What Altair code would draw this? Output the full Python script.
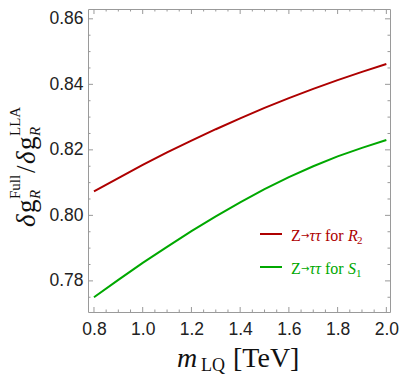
import altair as alt
import pandas as pd

# ---- data ----
m_lq = [0.8, 0.9, 1.0, 1.1, 1.2, 1.3, 1.4, 1.5, 1.6, 1.7, 1.8, 1.9, 2.0]
ratio_R2 = [0.8073, 0.8114, 0.8154, 0.8192, 0.8228, 0.8263, 0.8296, 0.8328,
            0.8358, 0.8386, 0.8413, 0.8438, 0.8462]
ratio_S1 = [0.7750, 0.7803, 0.7855, 0.7904, 0.7952, 0.7997, 0.8040, 0.8080,
            0.8117, 0.8150, 0.8180, 0.8206, 0.8230]
series_names = ["R2", "S1"]
series_colors = ["#AE0000", "#00A800"]

x_major = [0.8, 1.0, 1.2, 1.4, 1.6, 1.8, 2.0]
x_minor = [0.85, 0.9, 0.95, 1.05, 1.1, 1.15, 1.25, 1.3, 1.35, 1.45, 1.5, 1.55,
           1.65, 1.7, 1.75, 1.85, 1.9, 1.95]
y_major = [0.78, 0.80, 0.82, 0.84, 0.86]
y_minor = [0.775, 0.785, 0.79, 0.795, 0.805, 0.81, 0.815, 0.825, 0.83, 0.835,
           0.845, 0.85, 0.855]

W, H = 302, 303
OX, OY = 88, 9  # page position of plot origin

df = pd.DataFrame({
    "m": m_lq * 2,
    "r": ratio_R2 + ratio_S1,
    "s": [series_names[0]] * len(m_lq) + [series_names[1]] * len(m_lq),
})

xs = alt.Scale(domain=[0.7755, 2.015], nice=False, zero=False)
ys = alt.Scale(domain=[0.7705, 0.863], nice=False, zero=False)

lines = alt.Chart(df).mark_line(strokeWidth=2, clip=True).encode(
    x=alt.X("m:Q", scale=xs, axis=alt.Axis(
        values=x_major, format=".1f", ticks=False, domain=False, grid=False,
        labelFont="Liberation Sans", labelFontSize=17.5, labelColor="#222",
        labelPadding=8, title=None)),
    y=alt.Y("r:Q", scale=ys, axis=alt.Axis(
        values=y_major, format=".2f", ticks=False, domain=False, grid=False,
        labelFont="Liberation Sans", labelFontSize=17.5, labelColor="#222",
        labelPadding=5, title=None)),
    color=alt.Color("s:N", scale=alt.Scale(domain=series_names, range=series_colors),
                    legend=None),
)

tick_color = "#999999"


def xticks(vals, ln):
    d = pd.DataFrame({"v": vals})
    bot = alt.Chart(d).mark_rule(color=tick_color, strokeWidth=1).encode(
        x=alt.X("v:Q", scale=xs), y=alt.value(H), y2=alt.value(H - ln))
    top = alt.Chart(d).mark_rule(color=tick_color, strokeWidth=1).encode(
        x=alt.X("v:Q", scale=xs), y=alt.value(0), y2=alt.value(ln))
    return [bot, top]


def yticks(vals, ln):
    d = pd.DataFrame({"v": vals})
    lef = alt.Chart(d).mark_rule(color=tick_color, strokeWidth=1).encode(
        y=alt.Y("v:Q", scale=ys), x=alt.value(0), x2=alt.value(ln))
    rig = alt.Chart(d).mark_rule(color=tick_color, strokeWidth=1).encode(
        y=alt.Y("v:Q", scale=ys), x=alt.value(W), x2=alt.value(W - ln))
    return [lef, rig]


one = pd.DataFrame({"k": [0]})


def txt(t, px, py, size, italic=False, angle=0, color="#111", font="Liberation Serif",
        align="left", baseline="alphabetic"):
    kw = dict(text=t, font=font, fontSize=size, align=align, baseline=baseline,
              color=color)
    if italic:
        kw["fontStyle"] = "italic"
    if angle:
        kw["angle"] = angle
    return alt.Chart(one).mark_text(**kw).encode(
        x=alt.value(px - OX), y=alt.value(py - OY))


def legend_line(color, py):
    return alt.Chart(one).mark_rule(color=color, strokeWidth=2).encode(
        x=alt.value(260 - OX), x2=alt.value(282 - OX), y=alt.value(py - OY))


layers = [lines]
layers += xticks(x_major, 5) + xticks(x_minor, 2.5)
layers += yticks(y_major, 5) + yticks(y_minor, 2.5)

# y axis title: delta g_R^Full / delta g_R^LLA (rotated)
ya = 270
layers += [
    txt("δ", 35, 227, 27, italic=True, angle=ya),
    txt("g", 35, 213, 27, angle=ya),
    txt("R", 40, 199, 15, italic=True, angle=ya),
    txt("Full", 20, 199, 15, angle=ya),
    txt("/", 35, 173, 27, angle=ya),
    txt("δ", 35, 164, 27, italic=True, angle=ya),
    txt("g", 35, 150, 27, angle=ya),
    txt("R", 40, 136, 15, italic=True, angle=ya),
    txt("LLA", 20, 136, 15, angle=ya),
]

# x axis title: m_LQ [TeV]
layers += [
    txt("m", 177, 367, 28, italic=True),
    txt("LQ", 201, 371, 18),
    txt("[TeV]", 233, 367, 28),
]

# legend
r_col, g_col = series_colors
layers += [
    legend_line(r_col, 234),
    txt("Z", 291, 241, 16, color=r_col),
    txt("→", 301, 239, 10, color=r_col, font="DejaVu Sans"),
    txt("ττ", 309.5, 241, 16, italic=True, color=r_col),
    txt("for", 325, 241, 16, color=r_col),
    txt("R", 348, 241, 16, italic=True, color=r_col),
    txt("2", 357, 244, 11, color=r_col),
    legend_line(g_col, 267),
    txt("Z", 291, 274, 16, color=g_col),
    txt("→", 301, 272, 10, color=g_col, font="DejaVu Sans"),
    txt("ττ", 309.5, 274, 16, italic=True, color=g_col),
    txt("for", 325, 274, 16, color=g_col),
    txt("S", 348, 274, 16, italic=True, color=g_col),
    txt("1", 356, 277, 11, color=g_col),
]

chart = alt.layer(*layers).properties(
    width=W, height=H,
    autosize=alt.AutoSizeParams(type="none"),
    padding={"left": 80, "top": 1, "right": 9, "bottom": 64},
).configure_view(stroke="#9a9a9a", strokeWidth=1)

chart.save("out.html", embed_options={"renderer": "svg", "actions": False})
